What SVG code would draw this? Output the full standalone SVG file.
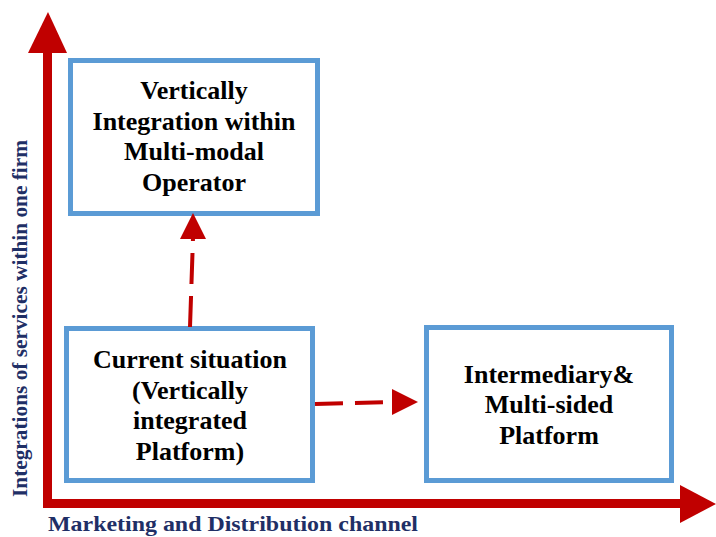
<svg xmlns="http://www.w3.org/2000/svg" width="716" height="537" viewBox="0 0 716 537">
<style>
.box{fill:#fff;stroke:#5B9BD5;stroke-width:5}
.t{font-family:"Liberation Serif","Times New Roman",serif;font-weight:bold;font-size:26px;fill:#000;text-anchor:middle}
.lab{font-family:"Liberation Serif","Times New Roman",serif;font-weight:bold;fill:#1F2F66}
.axis{stroke:#C00000;stroke-width:9;fill:none}
.dash{stroke:#C00000;stroke-width:4;fill:none}
.head{fill:#C00000}
</style>
<rect width="716" height="537" fill="#fff"/>
<g id="axes">
<line class="axis" x1="47.5" y1="508" x2="47.5" y2="50"/>
<polygon class="head" points="48,12 28,53 67,53"/>
<line class="axis" x1="43" y1="503.5" x2="682" y2="503.5"/>
<polygon class="head" points="716,504 680,485 680,523"/>
</g>
<g id="node-vertical-integration">
<rect class="box" x="70.5" y="60.5" width="247" height="153"/>
<text class="t" x="194" y="99">Vertically</text>
<text class="t" x="194" y="130">Integration within</text>
<text class="t" x="194" y="160">Multi-modal</text>
<text class="t" x="194" y="191">Operator</text>
</g>
<g id="node-current">
<rect class="box" x="66.5" y="328.5" width="246" height="152"/>
<text class="t" x="190" y="368">Current situation</text>
<text class="t" x="190" y="399">(Vertically</text>
<text class="t" x="190" y="429">integrated</text>
<text class="t" x="190" y="460">Platform)</text>
</g>
<g id="node-intermediary">
<rect class="box" x="426.5" y="327.5" width="245" height="153"/>
<text class="t" x="549" y="383">Intermediary&amp;</text>
<text class="t" x="549" y="413">Multi-sided</text>
<text class="t" x="549" y="444">Platform</text>
</g>
<g id="connectors">
<line class="dash" x1="190" y1="327" x2="193" y2="238" stroke-dasharray="31 12"/>
<polygon class="head" points="193,213 180,239 206,239"/>
<line class="dash" x1="315" y1="404" x2="392" y2="402" stroke-dasharray="28 12"/>
<polygon class="head" points="418,402 392,389 392,415"/>
</g>
<g id="labels">
<text class="lab" x="48" y="531" font-size="21" textLength="370" lengthAdjust="spacingAndGlyphs">Marketing and Distribution channel</text>
<text class="lab" transform="translate(27,497) rotate(-90)" x="0" y="0" font-size="21" textLength="357" lengthAdjust="spacingAndGlyphs">Integrations of services within one firm</text>
</g>
</svg>
